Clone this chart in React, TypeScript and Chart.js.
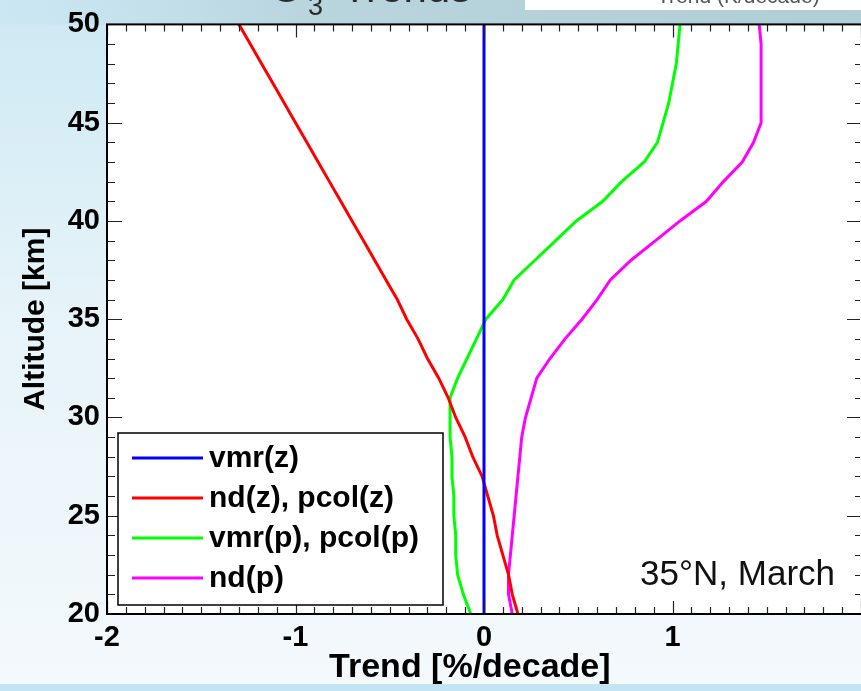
import React, { useEffect, useRef } from 'react';
import { Chart, registerables } from 'chart.js';

Chart.register(...registerables);

// ---- data ----
const ALTITUDE_KM = [20, 21, 22, 23, 24, 25, 26, 27, 28, 29, 30, 31, 32, 33, 34, 35, 36, 37, 38, 39, 40, 41, 42, 43, 44, 45, 46, 47, 48, 49, 50];
const VMR_Z = [0, 0, 0, 0, 0, 0, 0, 0, 0, 0, 0, 0, 0, 0, 0, 0, 0, 0, 0, 0, 0, 0, 0, 0, 0, 0, 0, 0, 0, 0, 0];
const ND_Z = [0.18, 0.15, 0.13, 0.10, 0.07, 0.05, 0.02, -0.01, -0.06, -0.10, -0.15, -0.19, -0.24, -0.30, -0.35, -0.41, -0.46, -0.52, -0.58, -0.64, -0.70, -0.76, -0.82, -0.88, -0.94, -1.00, -1.06, -1.12, -1.18, -1.24, -1.30];
const VMR_P = [-0.07, -0.11, -0.14, -0.15, -0.15, -0.16, -0.16, -0.17, -0.17, -0.18, -0.18, -0.18, -0.14, -0.09, -0.04, 0.01, 0.10, 0.16, 0.27, 0.38, 0.49, 0.63, 0.73, 0.85, 0.92, 0.95, 0.98, 1.00, 1.02, 1.03, 1.04];
const ND_P = [0.15, 0.13, 0.13, 0.14, 0.15, 0.16, 0.17, 0.18, 0.19, 0.20, 0.22, 0.25, 0.28, 0.35, 0.43, 0.52, 0.60, 0.67, 0.78, 0.91, 1.04, 1.18, 1.27, 1.37, 1.43, 1.47, 1.47, 1.47, 1.47, 1.47, 1.46];

const SERIES_LABELS = ['vmr(z)', 'nd(z), pcol(z)', 'vmr(p), pcol(p)', 'nd(p)'];
const SERIES_COLORS = ['#0000ff', '#ff0000', '#00ff00', '#ff00ff'];
const SERIES_VALUES = [VMR_Z, ND_Z, VMR_P, ND_P];

const X_MIN = -2;
const X_MAX = 2;
const X_TICKS = [-2, -1, 0, 1];
const Y_MIN = 20;
const Y_MAX = 50;
const Y_STEP = 5;

const X_TITLE = 'Trend [%/decade]';
const Y_TITLE = 'Altitude [km]';
const ANNOTATION = '35°N, March';
const SLIDE_TITLE_MAIN = 'O';
const SLIDE_TITLE_SUB = '3';
const SLIDE_TITLE_REST = 'Trends';
const SLIDE_BOX_TEXT = 'Trend (K/decade)';

const FONT = '"Liberation Sans", Arial, Helvetica, sans-serif';

const decorPlugin = {
  id: 'decor',
  beforeDraw(chart: any) {
    const { ctx, width, height, chartArea: a } = chart;
    ctx.save();
    // slide background
    const g = ctx.createLinearGradient(0, 0, 0, height);
    g.addColorStop(0, '#cde9f4');
    g.addColorStop(0.45, '#e6f3f9');
    g.addColorStop(1, '#f4f9fc');
    ctx.fillStyle = g;
    ctx.fillRect(0, 0, width, height);
    const tb = ctx.createLinearGradient(0, 0, width, 0);
    tb.addColorStop(0, 'rgba(190,222,235,0.2)');
    tb.addColorStop(0.35, 'rgba(185,213,222,1)');
    tb.addColorStop(1, 'rgba(176,206,214,1)');
    ctx.fillStyle = tb;
    ctx.fillRect(0, 0, width, a.top);
    ctx.fillStyle = '#c3e4f3';
    ctx.fillRect(0, height - 7, width, 7);

    // cropped slide title
    ctx.fillStyle = '#2a2a2a';
    ctx.textBaseline = 'alphabetic';
    ctx.textAlign = 'right';
    ctx.font = `42px ${FONT}`;
    ctx.fillText(SLIDE_TITLE_MAIN, 303, 2);
    ctx.textAlign = 'left';
    ctx.font = `27px ${FONT}`;
    ctx.fillText(SLIDE_TITLE_SUB, 308, 15);
    ctx.font = `42px ${FONT}`;
    ctx.fillText(SLIDE_TITLE_REST, 342, 2);

    // cropped white box at top right
    ctx.fillStyle = '#ffffff';
    ctx.fillRect(525, 0, width - 525, 10);
    ctx.fillStyle = '#555555';
    ctx.font = `21px ${FONT}`;
    ctx.fillText(SLIDE_BOX_TEXT, 657, 3);

    // white plot area
    ctx.fillStyle = '#ffffff';
    ctx.fillRect(a.left, a.top, a.right - a.left, a.bottom - a.top);
    ctx.restore();
  },
  afterDatasetsDraw(chart: any) {
    const { ctx, chartArea: a, scales } = chart;
    const xs = scales.x;
    const ys = scales.y;
    ctx.save();
    // ticks (inward, all four sides)
    ctx.strokeStyle = '#222';
    ctx.lineWidth = 1.2;
    ctx.beginPath();
    for (let i = Math.round(X_MIN * 10); i <= Math.round(X_MAX * 10); i++) {
      const v = i / 10;
      const px = Math.round(xs.getPixelForValue(v)) + 0.5;
      const major = i % 10 === 0;
      const len = major ? 13 : 7;
      ctx.moveTo(px, a.bottom);
      ctx.lineTo(px, a.bottom - len);
      ctx.moveTo(px, a.top);
      ctx.lineTo(px, a.top + len);
    }
    for (let v = Y_MIN; v <= Y_MAX; v++) {
      const py = Math.round(ys.getPixelForValue(v)) + 0.5;
      const major = v % Y_STEP === 0;
      ctx.moveTo(a.left, py);
      ctx.lineTo(a.left + (major ? 15 : 8), py);
      ctx.moveTo(a.right - 1, py);
      ctx.lineTo(a.right - 1 - (major ? 13 : 5), py);
    }
    ctx.stroke();
    // frame
    ctx.strokeStyle = '#000';
    ctx.lineWidth = 2;
    ctx.strokeRect(a.left, a.top, a.right - a.left + 2, a.bottom - a.top);

    // legend box
    const bx = a.left + 11;
    const bw = 325;
    const bh = 172;
    const by = a.bottom - 9 - bh;
    ctx.fillStyle = '#fff';
    ctx.fillRect(bx, by, bw, bh);
    ctx.strokeStyle = '#000';
    ctx.lineWidth = 1.5;
    ctx.strokeRect(bx, by, bw, bh);
    ctx.font = `bold 30px ${FONT}`;
    ctx.textBaseline = 'middle';
    ctx.textAlign = 'left';
    SERIES_LABELS.forEach((label, i) => {
      const ry = by + 25 + i * 40;
      ctx.strokeStyle = SERIES_COLORS[i];
      ctx.lineWidth = 3;
      ctx.beginPath();
      ctx.moveTo(bx + 14, ry);
      ctx.lineTo(bx + 85, ry);
      ctx.stroke();
      ctx.fillStyle = '#000';
      ctx.fillText(label, bx + 91, ry + 1);
    });

    // annotation
    ctx.font = `35px ${FONT}`;
    ctx.textAlign = 'right';
    ctx.fillStyle = '#111';
    ctx.fillText(ANNOTATION, a.right - 26, a.bottom - 39);
    ctx.restore();
  },
};

export default function App() {
  const ref = useRef<HTMLCanvasElement | null>(null);

  useEffect(() => {
    if (!ref.current) return;
    const datasets = SERIES_LABELS.map((label, i) => ({
      label,
      data: ALTITUDE_KM.map((alt, k) => ({ x: SERIES_VALUES[i][k], y: alt })),
      borderColor: SERIES_COLORS[i],
      backgroundColor: SERIES_COLORS[i],
      borderWidth: 3,
      pointRadius: 0,
      showLine: true,
      fill: false,
      tension: 0,
    }));
    const chart = new Chart(ref.current, {
      type: 'scatter',
      data: { datasets },
      options: {
        animation: false,
        responsive: false,
        devicePixelRatio: 1,
        layout: { padding: { top: 21, right: 0, left: 0, bottom: 0 } },
        plugins: { legend: { display: false }, tooltip: { enabled: false }, title: { display: false } },
        scales: {
          x: {
            type: 'linear',
            position: 'bottom',
            min: X_MIN,
            max: X_MAX,
            afterBuildTicks: (scale: any) => {
              scale.ticks = X_TICKS.map((v) => ({ value: v }));
            },
            afterFit: (scale: any) => {
              scale.height = 77;
            },
            grid: { display: false, drawTicks: false },
            border: { display: false },
            ticks: {
              color: '#000',
              padding: 7,
              maxRotation: 0,
              font: { family: FONT, size: 29, weight: 'bold' },
            },
            title: {
              display: true,
              text: X_TITLE + '\u00A0\u00A0\u00A0',
              color: '#000',
              font: { family: FONT, size: 34, weight: 'bold' },
              padding: { top: 0, bottom: 3 },
            },
          },
          y: {
            type: 'linear',
            min: Y_MIN,
            max: Y_MAX,
            afterFit: (scale: any) => {
              scale.width = 107;
            },
            grid: { display: false, drawTicks: false },
            border: { display: false },
            ticks: {
              stepSize: Y_STEP,
              color: '#000',
              padding: 7,
              font: { family: FONT, size: 29, weight: 'bold' },
            },
            title: {
              display: true,
              text: Y_TITLE,
              color: '#000',
              font: { family: FONT, size: 30, weight: 'bold' },
              padding: { top: 18, bottom: 0 },
            },
          },
        },
      },
      plugins: [decorPlugin],
    } as any);
    return () => chart.destroy();
  }, []);

  return (
    <div style={{ position: 'fixed', left: 0, top: 0, width: 861, height: 691, overflow: 'hidden' }}>
      <canvas ref={ref} width={861} height={691} style={{ display: 'block', width: 861, height: 691 }} />
    </div>
  );
}
